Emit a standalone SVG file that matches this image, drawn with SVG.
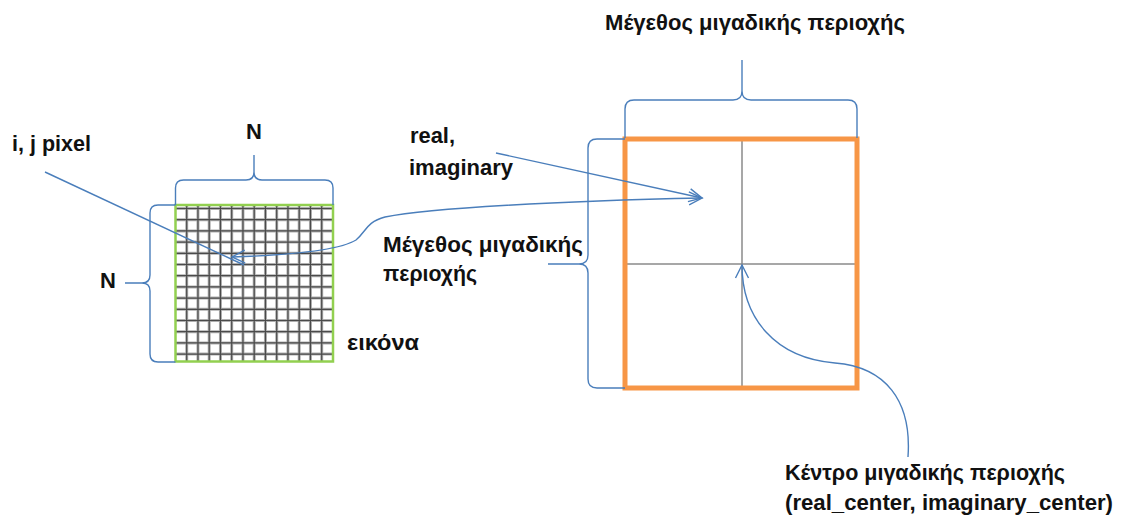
<svg xmlns="http://www.w3.org/2000/svg" width="1125" height="519" viewBox="0 0 1125 519">
<style>
.t{font-family:"Liberation Sans","DejaVu Sans",Arial,sans-serif;font-weight:bold;font-size:22px;fill:#111}
.br{fill:none;stroke:#4A7EBB;stroke-width:1.4}
.ln{fill:none;stroke:#4A7EBB;stroke-width:1.4}
.gl{fill:none;stroke:#b0b0b0;stroke-width:3}
.gd{fill:none;stroke:#4a4a4a;stroke-width:1.2}
</style>
<defs>
<marker id="ah" markerUnits="userSpaceOnUse" markerWidth="20" markerHeight="20" refX="0" refY="0" viewBox="-16 -10 20 20" orient="auto-start-reverse">
<path d="M-13,-6.5 L0,0 L-13,6.5" fill="none" stroke="#4A7EBB" stroke-width="1.4"/>
</marker>
</defs>
<rect width="1125" height="519" fill="#fff"/>

<g id="image-grid">
<path class="gl" d="M186.7,205V361M197.95,205V361M209.2,205V361M220.45,205V361M231.7,205V361M242.95,205V361M254.2,205V361M265.45,205V361M276.7,205V361M287.95,205V361M299.2,205V361M310.45,205V361M321.7,205V361M175,208.5H333M175,219.7H333M175,230.9H333M175,242.1H333M175,253.3H333M175,264.5H333M175,275.7H333M175,286.9H333M175,298.1H333M175,309.3H333M175,320.5H333M175,331.7H333M175,342.9H333M175,354.1H333"/>
<path class="gd" d="M186.7,205V361M197.95,205V361M209.2,205V361M220.45,205V361M231.7,205V361M242.95,205V361M254.2,205V361M265.45,205V361M276.7,205V361M287.95,205V361M299.2,205V361M310.45,205V361M321.7,205V361M175,208.5H333M175,219.7H333M175,230.9H333M175,242.1H333M175,253.3H333M175,264.5H333M175,275.7H333M175,286.9H333M175,298.1H333M175,309.3H333M175,320.5H333M175,331.7H333M175,342.9H333M175,354.1H333"/>
<rect x="175.5" y="205" width="157.5" height="156.5" fill="none" stroke="#92D050" stroke-width="2.5"/>
<text class="t" x="347" y="350" textLength="72" lengthAdjust="spacingAndGlyphs">εικόνα</text>
</g>

<g id="image-top-brace">
<path class="br" d="M175.5,205 V188 Q175.5,180 183.5,180 H246 Q254,180 254,172 V155 M254,172 Q254,180 262,180 H325 Q333,180 333,188 V205"/>
<text class="t" x="254" y="139" text-anchor="middle" font-size="19">N</text>
</g>

<g id="image-left-brace">
<path class="br" d="M175.5,205 H158 Q150,205 150,213 V275 Q150,283 142,283 H125 M142,283 Q150,283 150,291 V354 Q150,362 158,362 H175.5"/>
<text class="t" x="100" y="288" font-size="20">N</text>
</g>

<g id="region-square">
<path d="M742,139V388M625,264H857" fill="none" stroke="#8a8a8a" stroke-width="1.5"/>
<rect x="625" y="139" width="232" height="249" fill="none" stroke="#F79646" stroke-width="5"/>
</g>

<g id="region-top-brace">
<path class="br" d="M625,138 V109 Q625,100 634,100 H733 Q742,100 742,91 V60 M742,91 Q742,100 751,100 H848 Q857,100 857,109 V138"/>
<text class="t" x="605" y="30" textLength="300" lengthAdjust="spacingAndGlyphs">Μέγεθος μιγαδικής περιοχής</text>
</g>

<g id="region-left-brace">
<path class="br" d="M625,139 H597 Q588,139 588,148 V255 Q588,264 579,264 H548 M579,264 Q588,264 588,273 V379 Q588,388 597,388 H625"/>
<text class="t" x="383" y="252" textLength="200" lengthAdjust="spacingAndGlyphs">Μέγεθος μιγαδικής</text>
<text class="t" x="383" y="281" textLength="94" lengthAdjust="spacingAndGlyphs">περιοχής</text>
</g>

<g id="label-pixel">
<text class="t" x="12" y="151" textLength="79" lengthAdjust="spacingAndGlyphs">i, j pixel</text>
</g>

<g id="label-real-imaginary">
<text class="t" x="410" y="143" textLength="45" lengthAdjust="spacingAndGlyphs">real,</text>
<text class="t" x="409" y="175" textLength="104" lengthAdjust="spacingAndGlyphs">imaginary</text>
</g>

<g id="label-center">
<text class="t" x="785" y="480" textLength="280" lengthAdjust="spacingAndGlyphs">Κέντρο μιγαδικής περιοχής</text>
<text class="t" x="785" y="510" textLength="328" lengthAdjust="spacingAndGlyphs">(real_center, imaginary_center)</text>
</g>

<g id="connectors">
<path class="ln" d="M45,172 L244,265"/>
<path class="ln" d="M496,153 L702,198" marker-end="url(#ah)"/>
<path class="ln" d="M232,257 C290,255 340,250 356,240 C366,232 366,222 385,217 C430,208 560,201 702,198" marker-start="url(#ah)" marker-end="url(#ah)"/>
<path class="ln" d="M908,457 C912,400 885,367 835,363 C775,358 742,318 742,265" marker-end="url(#ah)"/>
</g>
</svg>
